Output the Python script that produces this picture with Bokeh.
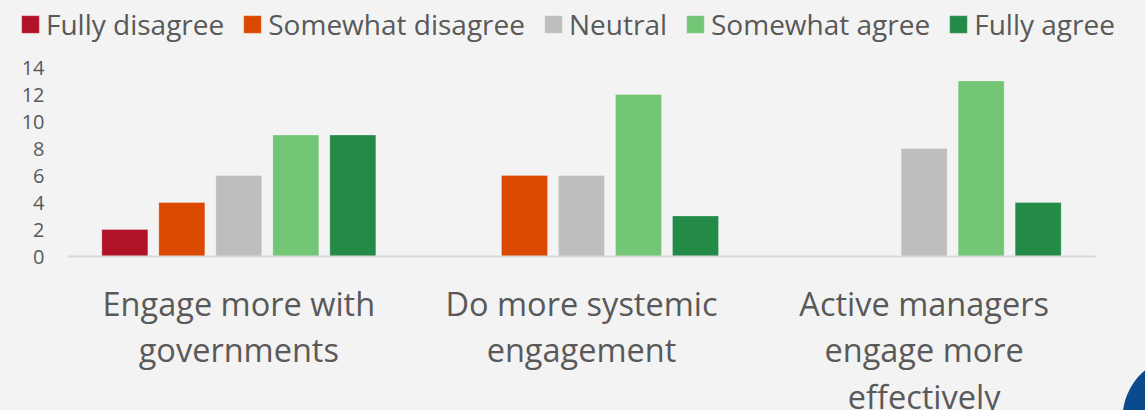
from bokeh.plotting import figure
from bokeh.models import (Range1d, ColumnDataSource, Legend, LegendItem, FixedTicker,
                          LinearAxis, PolyAnnotation, GlobalInlineStyleSheet)
from bokeh.transform import dodge
from bokeh.embed import file_html
from bokeh.resources import INLINE
import math

# ---- data ----
categories = ["Engage more with governments", "Do more systemic engagement",
              "Active managers engage more effectively"]
label_line1 = ["Engage more with", "Do more systemic", "Active managers"]
label_line2 = ["governments", "engagement", "engage more"]
label_line3 = ["", "", "effectively"]
series_names = ["Fully disagree", "Somewhat disagree", "Neutral", "Somewhat agree", "Fully agree"]
fully_disagree = [2, 0, 0]
somewhat_disagree = [4, 6, 0]
neutral = [6, 6, 8]
somewhat_agree = [9, 12, 13]
fully_agree = [9, 3, 4]
y_ticks = [0, 2, 4, 6, 8, 10, 12, 14]

series_values = [fully_disagree, somewhat_disagree, neutral, somewhat_agree, fully_agree]
colors = ["#b01228", "#d94a00", "#bebebe", "#74c677", "#238a48"]

BG = "#f2f3f2"
TXT = "#595959"
FONT = "Open Sans"

# ---- layout constants (pixels) ----
W, H = 1145, 410
PLOT_L, PLOT_R = 67, 1095      # plot area left/right
PLOT_T, PLOT_B = 67, 256       # plot area top (y=14) / bottom (y=0)
YMAX = 14
ncat = len(categories)
px_x = (PLOT_R - PLOT_L) / ncat
px_y = (PLOT_B - PLOT_T) / YMAX
x0 = -0.5 - PLOT_L / px_x
x1 = ncat - 0.5 + (W - PLOT_R) / px_x
y1 = YMAX + PLOT_T / px_y
y0 = -(H - PLOT_B) / px_y

p = figure(x_range=Range1d(x0, x1), y_range=Range1d(y0, y1),
           width=W, height=H, output_backend="svg", toolbar_location=None,
           min_border=0)
p.background_fill_color = BG
p.border_fill_color = BG
p.outline_line_color = None
p.xgrid.grid_line_color = None
p.ygrid.grid_line_color = None
p.stylesheets = [GlobalInlineStyleSheet(css="html, body { background: #f2f3f2; }")]

src = ColumnDataSource(dict(xi=list(range(ncat)), **{f"s{i}": v for i, v in enumerate(series_values)}))

step = 57 / px_x
bw = 46 / px_x
renderers = []
for i, (name, col) in enumerate(zip(series_names, colors)):
    r = p.vbar(x=dodge("xi", (i - 2) * step), top=f"s{i}", width=bw,
               source=src, fill_color=col, line_color="white", line_alpha=0.25, line_width=1)
    renderers.append(r)

# y axis, fixed at the plot area's left edge
ya = p.yaxis[0]
ya.fixed_location = -0.5
ya.bounds = (0, YMAX)
ya.ticker = FixedTicker(ticks=y_ticks)
ya.axis_line_color = None
ya.major_tick_line_color = None
ya.minor_tick_line_color = None
ya.major_tick_out = 0
ya.major_tick_in = 0
ya.major_label_text_font = FONT
ya.major_label_text_font_size = "20px"
ya.major_label_text_color = TXT
ya.major_label_standoff = 23

# x axes: one per label line, all fixed at y = 0
def style_x(ax, lines, standoff):
    ax.fixed_location = 0
    ax.bounds = (-0.5, ncat - 0.5)
    ax.ticker = FixedTicker(ticks=list(range(ncat)))
    ax.major_tick_line_color = None
    ax.minor_tick_line_color = None
    ax.major_tick_out = 0
    ax.major_tick_in = 0
    ax.major_label_overrides = {i: t for i, t in enumerate(lines)}
    ax.major_label_text_font = FONT
    ax.major_label_text_font_size = "32.5px"
    ax.major_label_text_color = TXT
    ax.major_label_standoff = standoff

xa = p.xaxis[0]
style_x(xa, label_line1, 24)
xa.axis_line_color = "#d9d9d9"
xa.axis_line_width = 2
for lines, so in [(label_line2, 70), (label_line3, 117)]:
    ax = LinearAxis()
    style_x(ax, lines, so)
    ax.axis_line_color = None
    p.add_layout(ax, "below")

legend = Legend(items=[LegendItem(label=n, renderers=[r]) for n, r in zip(series_names, renderers)],
                orientation="horizontal", location=(19, H - 43),
                background_fill_alpha=0, border_line_color=None,
                label_text_font=FONT, label_text_font_size="28px", label_text_color=TXT,
                glyph_width=22, glyph_height=22, label_standoff=5, spacing=17,
                padding=0, margin=0)
p.add_layout(legend, "center")

# decorative page badge in the bottom-right corner
bcx, bcy, br = 1185, 418, 63
angs = [2 * math.pi * k / 120 for k in range(120)]
badge = PolyAnnotation(
    xs=[-0.5 + (bcx + br * math.cos(a) - PLOT_L) / px_x for a in angs],
    ys=[(PLOT_B - (bcy + br * math.sin(a))) / px_y for a in angs],
    fill_color="#0b4a8c", fill_alpha=1, line_color=None)
p.add_layout(badge)

open("out.html", "w").write(file_html(p, INLINE))
